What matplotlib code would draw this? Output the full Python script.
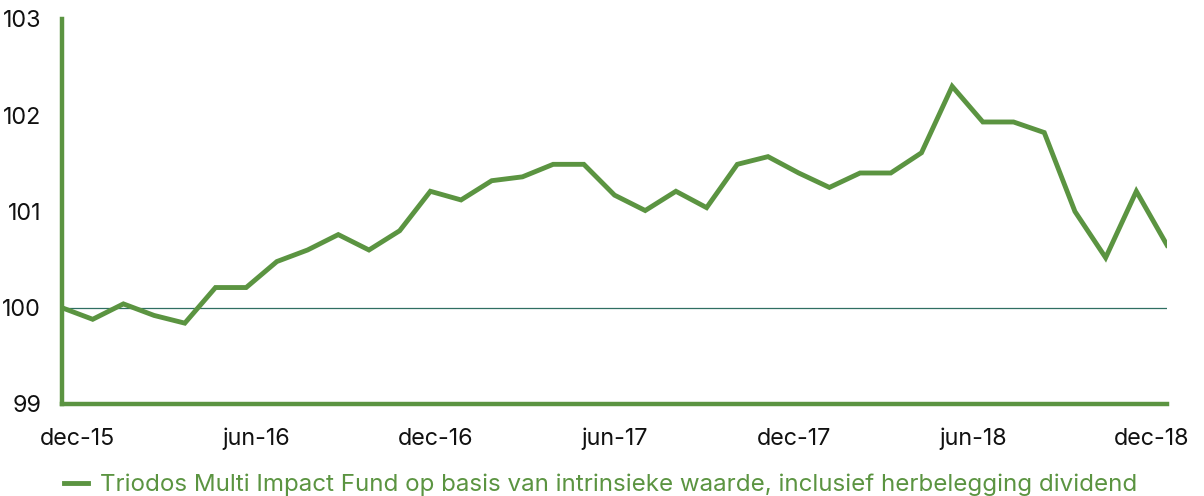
import matplotlib.pyplot as plt
import numpy as np

plt.rcParams['font.family'] = ['Inter', 'DejaVu Sans']

# maandelijkse waarde, index dec-15 = 100
months = np.arange(37)
values = [100.00, 99.88, 100.04, 99.92, 99.84, 100.21, 100.21, 100.48, 100.60,
          100.76, 100.60, 100.80, 101.21, 101.12, 101.32, 101.36, 101.49, 101.49,
          101.17, 101.01, 101.21, 101.04, 101.49, 101.57, 101.40, 101.25, 101.40,
          101.40, 101.61, 102.30, 101.93, 101.93, 101.82, 101.00, 100.52, 101.21,
          100.65]
tick_labels = ['dec-15', 'jun-16', 'dec-16', 'jun-17', 'dec-17', 'jun-18', 'dec-18']
label = 'Triodos Multi Impact Fund op basis van intrinsieke waarde, inclusief herbelegging dividend'

green = '#5b9441'

fig = plt.figure(figsize=(12.04, 4.96), dpi=100)
ax = fig.add_axes([0.0515, 0.1855, 0.9178, 0.7762])

ax.plot(months, values, color=green, lw=3.5, solid_joinstyle='miter', label=label)
ax.axhline(100, color='#2f6f62', lw=0.9, zorder=1)

ax.set_xlim(0, 36)
ax.set_ylim(99, 103)
ax.set_yticks([99, 100, 101, 102, 103])
ax.set_xticks(np.linspace(0.5, 35.5, 7))
ax.set_xticklabels(tick_labels)

for s in ['top', 'right']:
    ax.spines[s].set_visible(False)
for s in ['left', 'bottom']:
    ax.spines[s].set_color(green)
    ax.spines[s].set_linewidth(3.2)

ax.tick_params(length=0, labelsize=16.8, colors='#111111')
ax.tick_params(axis='y', pad=15)
ax.tick_params(axis='x', pad=17)

leg = fig.legend(loc='lower left', bbox_to_anchor=(0.035, -0.044), frameon=False,
                 fontsize=17.4, handlelength=1.0, handletextpad=0.5)
for t in leg.get_texts():
    t.set_color(green)

fig.savefig('out.png', dpi=100)
